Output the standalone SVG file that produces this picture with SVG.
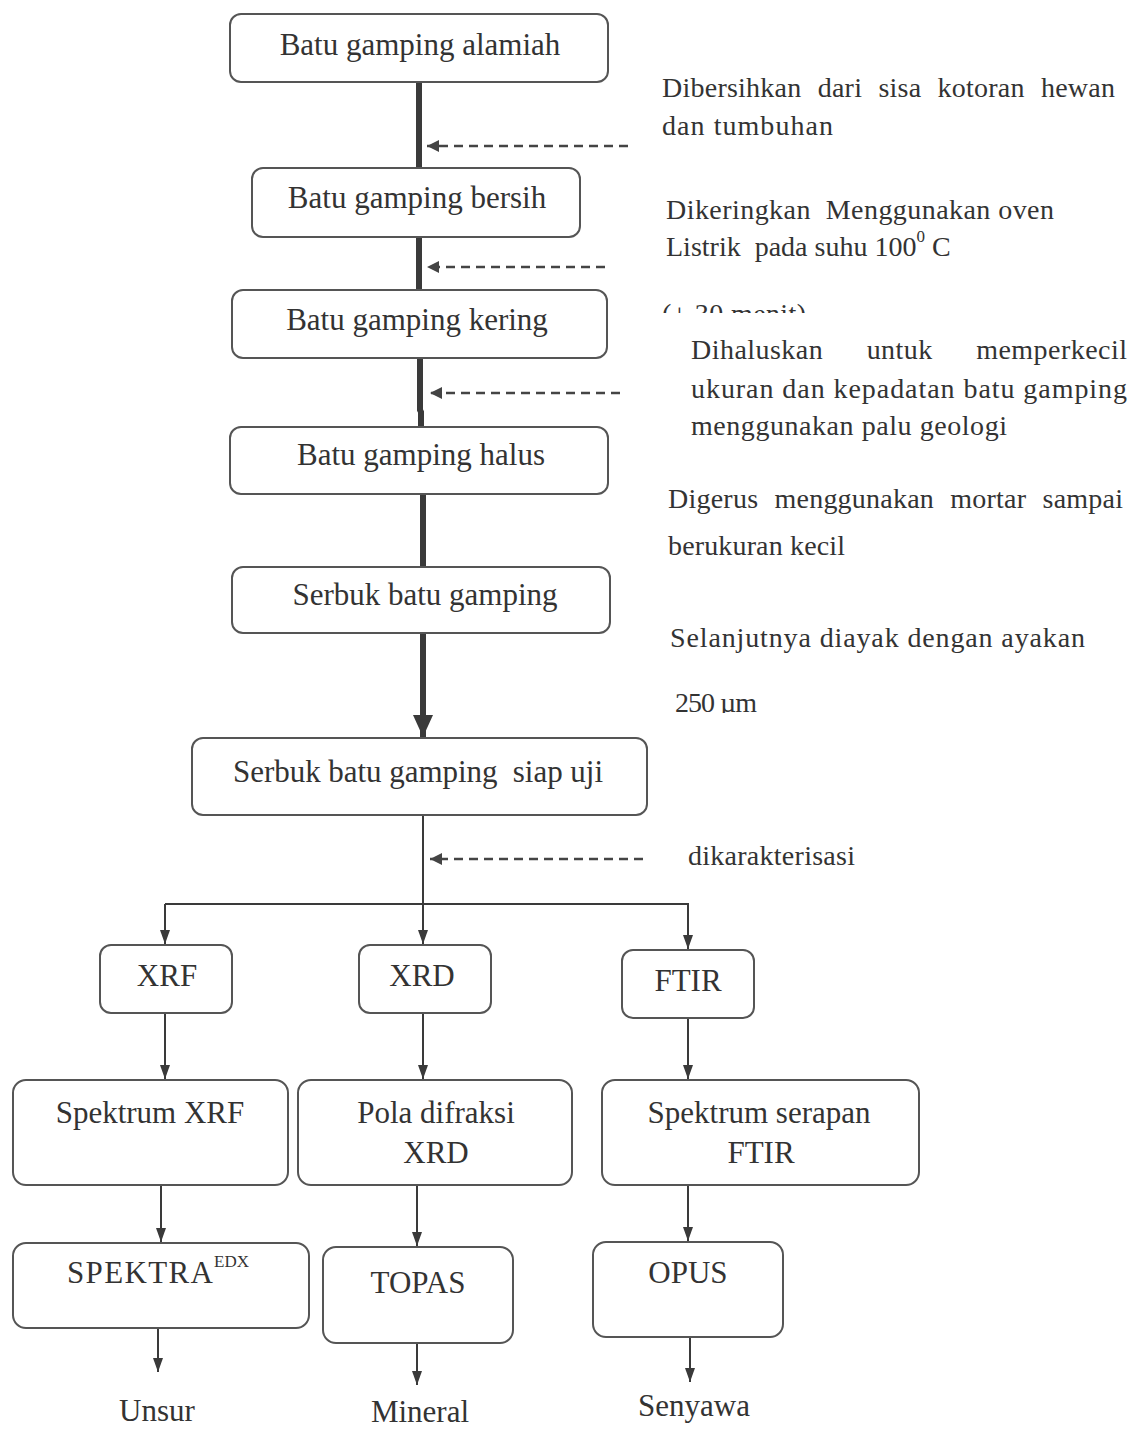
<svg xmlns="http://www.w3.org/2000/svg" width="1130" height="1429" viewBox="0 0 1130 1429">
<style>
.bx{fill:#fff;stroke:#555;stroke-width:2}
.t{font-family:"Liberation Serif","Times New Roman",serif;font-size:31px;fill:#333;text-anchor:middle}
.n{font-family:"Liberation Serif","Times New Roman",serif;font-size:28px;fill:#333}
.sup{font-family:"Liberation Serif","Times New Roman",serif;font-size:17px;fill:#333}
.thick{stroke:#3a3a3a;stroke-width:6;fill:none}
.thin{stroke:#3a3a3a;stroke-width:2;fill:none}
.dash{stroke:#444;stroke-width:2.5;stroke-dasharray:9 6;fill:none}
</style>
<defs>
<marker id="ah" viewBox="0 0 14 10" markerWidth="14" markerHeight="10" refX="14" refY="5" orient="auto" markerUnits="userSpaceOnUse"><path d="M0,0 L14,5 L0,10 z" fill="#3a3a3a"/></marker>
<marker id="ahb" viewBox="0 0 22 20" markerWidth="22" markerHeight="20" refX="22" refY="10" orient="auto" markerUnits="userSpaceOnUse"><path d="M0,0 L22,10 L0,20 z" fill="#3a3a3a"/></marker>
<marker id="ahd" viewBox="0 0 12 12" markerWidth="12" markerHeight="12" refX="12" refY="6" orient="auto" markerUnits="userSpaceOnUse"><path d="M0,0 L12,6 L0,12 z" fill="#444"/></marker>
<clipPath id="c30"><rect x="640" y="290" width="250" height="23"/></clipPath>
<clipPath id="c250"><rect x="640" y="680" width="200" height="33"/></clipPath>
</defs>
<rect width="1130" height="1429" fill="#fff"/>

<g id="connectors">
<line class="thick" x1="419" y1="82" x2="419" y2="168"/>
<line class="thick" x1="419" y1="237" x2="419" y2="290"/>
<polyline class="thick" points="420,358 420,410 421,412 421,427"/>
<line class="thick" x1="423" y1="494" x2="423" y2="567"/>
<line class="thick" x1="423" y1="633" x2="423" y2="737" marker-end="url(#ahb)"/>
<line class="dash" x1="628" y1="146" x2="427" y2="146" marker-end="url(#ahd)"/>
<line class="dash" x1="605" y1="267" x2="427" y2="267" marker-end="url(#ahd)"/>
<line class="dash" x1="620" y1="393" x2="430" y2="393" marker-end="url(#ahd)"/>
<line class="dash" x1="643" y1="859" x2="430" y2="859" marker-end="url(#ahd)"/>
<line class="thin" x1="423" y1="815" x2="423" y2="944" marker-end="url(#ah)"/>
<polyline class="thin" points="165,904 688,904 688,949" marker-end="url(#ah)"/>
<line class="thin" x1="165" y1="904" x2="165" y2="944" marker-end="url(#ah)"/>
<line class="thin" x1="165" y1="1013" x2="165" y2="1079" marker-end="url(#ah)"/>
<line class="thin" x1="423" y1="1013" x2="423" y2="1079" marker-end="url(#ah)"/>
<line class="thin" x1="688" y1="1018" x2="688" y2="1079" marker-end="url(#ah)"/>
<line class="thin" x1="161" y1="1185" x2="161" y2="1242" marker-end="url(#ah)"/>
<line class="thin" x1="417" y1="1185" x2="417" y2="1246" marker-end="url(#ah)"/>
<line class="thin" x1="688" y1="1185" x2="688" y2="1241" marker-end="url(#ah)"/>
<line class="thin" x1="158" y1="1328" x2="158" y2="1372" marker-end="url(#ah)"/>
<line class="thin" x1="417" y1="1343" x2="417" y2="1385" marker-end="url(#ah)"/>
<line class="thin" x1="690" y1="1337" x2="690" y2="1382" marker-end="url(#ah)"/>
</g>

<g id="n1"><rect class="bx" x="230" y="14" width="378" height="68" rx="11"/><text class="t" x="420" y="55">Batu gamping alamiah</text></g>
<g id="n2"><rect class="bx" x="252" y="168" width="328" height="69" rx="11"/><text class="t" x="417" y="208">Batu gamping bersih</text></g>
<g id="n3"><rect class="bx" x="232" y="290" width="375" height="68" rx="11"/><text class="t" x="417" y="330">Batu gamping kering</text></g>
<g id="n4"><rect class="bx" x="230" y="427" width="378" height="67" rx="11"/><text class="t" x="421" y="465">Batu gamping halus</text></g>
<g id="n5"><rect class="bx" x="232" y="567" width="378" height="66" rx="11"/><text class="t" x="425" y="605">Serbuk batu gamping</text></g>
<g id="n6"><rect class="bx" x="192" y="738" width="455" height="77" rx="11"/><text class="t" x="418" y="782" textLength="370">Serbuk batu gamping&#160; siap uji</text></g>
<g id="n7"><rect class="bx" x="100" y="945" width="132" height="68" rx="11"/><text class="t" x="167" y="986">XRF</text></g>
<g id="n8"><rect class="bx" x="359" y="945" width="132" height="68" rx="11"/><text class="t" x="422" y="986">XRD</text></g>
<g id="n9"><rect class="bx" x="622" y="950" width="132" height="68" rx="11"/><text class="t" x="688" y="991">FTIR</text></g>
<g id="n10"><rect class="bx" x="13" y="1080" width="275" height="105" rx="13"/><text class="t" x="150" y="1123">Spektrum XRF</text></g>
<g id="n11"><rect class="bx" x="298" y="1080" width="274" height="105" rx="13"/><text class="t" x="436" y="1123">Pola difraksi</text><text class="t" x="436" y="1163">XRD</text></g>
<g id="n12"><rect class="bx" x="602" y="1080" width="317" height="105" rx="13"/><text class="t" x="759" y="1123">Spektrum serapan</text><text class="t" x="761" y="1163">FTIR</text></g>
<g id="n13"><rect class="bx" x="13" y="1243" width="296" height="85" rx="13"/><text class="t" x="140" y="1283" textLength="146">SPEKTRA</text><text class="sup" x="214" y="1267">EDX</text></g>
<g id="n14"><rect class="bx" x="323" y="1247" width="190" height="96" rx="13"/><text class="t" x="418" y="1293">TOPAS</text></g>
<g id="n15"><rect class="bx" x="593" y="1242" width="190" height="95" rx="13"/><text class="t" x="688" y="1283">OPUS</text></g>

<g id="n16"><text class="t" x="157" y="1421">Unsur</text></g>
<g id="n17"><text class="t" x="420" y="1422">Mineral</text></g>
<g id="n18"><text class="t" x="694" y="1416">Senyawa</text></g>

<g id="notes">
<text class="n" x="662" y="97" word-spacing="9" textLength="453">Dibersihkan dari sisa kotoran hewan</text>
<text class="n" x="662" y="135" textLength="171">dan tumbuhan</text>
<text class="n" x="666" y="219" textLength="388">Dikeringkan&#160; Menggunakan oven</text>
<text class="n" x="666" y="256">Listrik&#160; pada suhu 100<tspan font-size="17" dy="-14">0</tspan><tspan dy="14"> C</tspan></text>
<text class="n" x="662" y="323" clip-path="url(#c30)" textLength="144">(± 30 menit)</text>
<text class="n" x="691" y="359" word-spacing="36" textLength="436">Dihaluskan untuk memperkecil</text>
<text class="n" x="691" y="398" textLength="436">ukuran dan kepadatan batu gamping</text>
<text class="n" x="691" y="435" textLength="316">menggunakan palu geologi</text>
<text class="n" x="668" y="508" word-spacing="9" textLength="455">Digerus menggunakan mortar sampai</text>
<text class="n" x="668" y="555" textLength="177">berukuran kecil</text>
<text class="n" x="670" y="647" textLength="415">Selanjutnya diayak dengan ayakan</text>
<text class="n" x="675" y="712" clip-path="url(#c250)" textLength="82">250 µm</text>
<text class="n" x="688" y="865" textLength="167">dikarakterisasi</text>
</g>
</svg>
